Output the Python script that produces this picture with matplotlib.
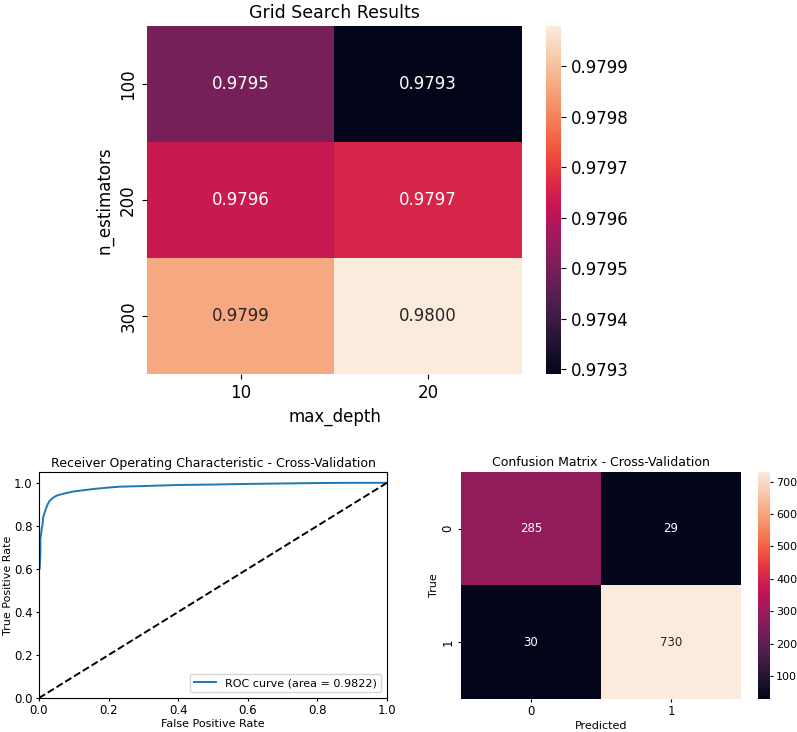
import numpy as np
import matplotlib
matplotlib.use("Agg")
import matplotlib.pyplot as plt
import seaborn as sns

## Grid search data
n_estimators = [100, 200, 300]
max_depth = [10, 20]
grid_scores = [[0.97950, 0.97929],
               [0.97963, 0.97966],
               [0.97986, 0.97998]]

## ROC curve points
fpr = [0.0, 0.0, 0.0, 0.002, 0.004, 0.004, 0.006, 0.008, 0.010, 0.012, 0.016, 0.02, 0.025, 0.03,
       0.04, 0.05, 0.06, 0.08, 0.1, 0.13, 0.16, 0.2, 0.23, 0.3, 0.4, 0.5, 0.6, 0.7, 0.8, 0.9, 1.0]
tpr = [0.0, 0.47, 0.6, 0.6, 0.66, 0.74, 0.76, 0.79, 0.80, 0.84, 0.86, 0.88, 0.90, 0.915,
       0.93, 0.94, 0.945, 0.953, 0.96, 0.966, 0.972, 0.978, 0.982, 0.985, 0.99, 0.992, 0.995, 0.997, 0.999, 1.0, 1.0]
roc_auc = 0.9822

## Confusion matrix
cm = [[285, 29],
      [30, 730]]
cm_labels = [0, 1]

fig = plt.figure(figsize=(7.97, 7.32), dpi=100)

## Top heatmap
ax1 = fig.add_axes([0.1844, 0.489, 0.4705, 0.4754])
cax1 = fig.add_axes([0.685, 0.489, 0.0188, 0.4754])
sns.heatmap(np.array(grid_scores), annot=True, fmt=".4f", ax=ax1, cbar_ax=cax1,
            xticklabels=max_depth, yticklabels=n_estimators,
            annot_kws={"size": 12})
ax1.set_title("Grid Search Results", fontsize=12.5)
ax1.set_xlabel("max_depth", fontsize=12)
ax1.set_ylabel("n_estimators", fontsize=12)
ax1.tick_params(labelsize=12)
cax1.tick_params(labelsize=12)
cax1.yaxis.set_major_formatter(matplotlib.ticker.FormatStrFormatter("%.4f"))

## ROC curve
ax2 = fig.add_axes([0.0489, 0.0464, 0.4366, 0.3087])
ax2.plot(fpr, tpr, color="#1f77b4", lw=1.4, label="ROC curve (area = %0.4f)" % roc_auc)
ax2.plot([0, 1], [0, 1], "k--", lw=1.4)
ax2.set_xlim(0.0, 1.0)
ax2.set_ylim(0.0, 1.05)
ax2.set_xlabel("False Positive Rate", fontsize=8, labelpad=1)
ax2.set_ylabel("True Positive Rate", fontsize=8, labelpad=1)
ax2.set_title("Receiver Operating Characteristic - Cross-Validation", fontsize=9, pad=4)
ax2.tick_params(labelsize=8.5, length=2.5, pad=2)
ax2.legend(loc="lower right", fontsize=8)

## Confusion matrix
ax3 = fig.add_axes([0.5784, 0.0451, 0.3513, 0.3101])
cax3 = fig.add_axes([0.951, 0.0451, 0.015, 0.3101])
sns.heatmap(np.array(cm), annot=True, fmt="d", ax=ax3, cbar_ax=cax3,
            xticklabels=cm_labels, yticklabels=cm_labels, annot_kws={"size": 8.5})
ax3.set_title("Confusion Matrix - Cross-Validation", fontsize=9, pad=4)
ax3.set_xlabel("Predicted", fontsize=8, labelpad=2)
ax3.set_ylabel("True", fontsize=8, labelpad=2)
ax3.tick_params(labelsize=8.5, length=2.5, pad=2)
cax3.tick_params(labelsize=8, length=2.5, pad=2)

fig.savefig("out.png", dpi=100)
